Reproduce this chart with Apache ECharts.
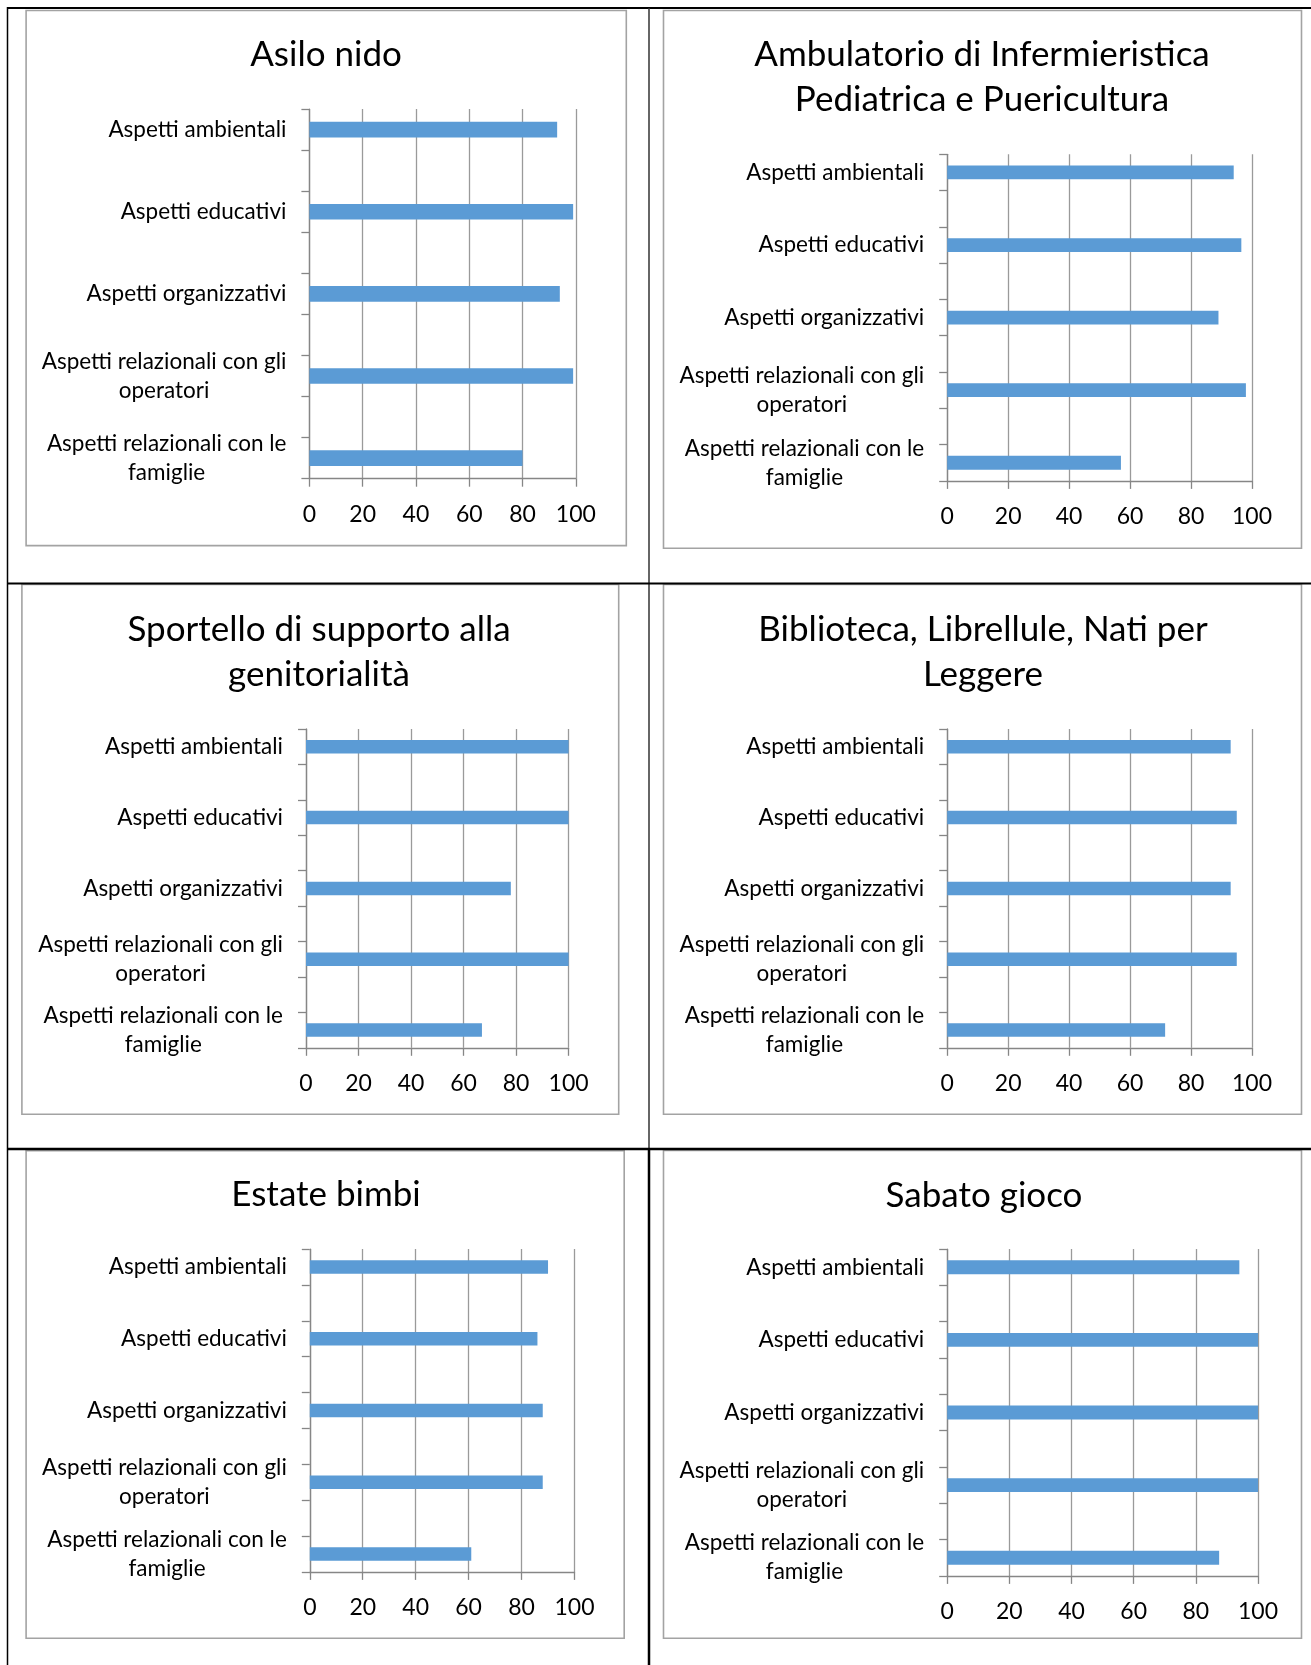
<!DOCTYPE html>
<html lang="it">
<head>
<meta charset="utf-8">
<title>Soddisfazione dei servizi</title>
<script src="https://cdn.jsdelivr.net/npm/echarts@6/dist/echarts.min.js"></script>
<style>
  html, body { margin: 0; padding: 0; background: #ffffff; }
  #chart { width: 1311px; height: 1665px; }
</style>
</head>
<body>
<div id="chart"></div>
<script>
// Aspects rated for every service (top to bottom)
const categories = [
  'Aspetti ambientali',
  'Aspetti educativi',
  'Aspetti organizzativi',
  'Aspetti relazionali con gli\noperatori',
  'Aspetti relazionali con le\nfamiglie'
];

// Value axis: 0 to 100, one tick every 20
const axisMin = 0;
const axisMax = 100;
const axisStep = 20;

// Service names (panel titles)
const titles = [
  'Asilo nido',
  'Ambulatorio di Infermieristica\nPediatrica e Puericultura',
  'Sportello di supporto alla\ngenitorialità',
  'Biblioteca, Librellule, Nati per\nLeggere',
  'Estate bimbi',
  'Sabato gioco'
];

// Scores per service, in the same order as categories
const asiloNido     = [93, 99, 94, 99, 80];
const ambulatorio   = [94, 96.5, 89, 98, 57];
const sportello     = [100, 100, 78, 100, 67];
const biblioteca    = [93, 95, 93, 95, 71.5];
const estateBimbi   = [90, 86, 88, 88, 61];
const sabatoGioco   = [94, 100, 100, 100, 87.5];

const seriesValues = [asiloNido, ambulatorio, sportello, biblioteca, estateBimbi, sabatoGioco];

// ---- layout (pixels) ----
const grids = [
  { left: 309.4, top: 109.1, width: 266.4, height: 369.6 },
  { left: 947.2, top: 154.3, width: 304.8, height: 326.6 },
  { left: 306.0, top: 729.0, width: 262.6, height: 318.8 },
  { left: 947.2, top: 729.0, width: 304.8, height: 318.8 },
  { left: 309.8, top: 1249.1, width: 264.7, height: 322.8 },
  { left: 947.2, top: 1249.1, width: 310.8, height: 326.8 }
];
const titlePos = [
  { x: 326, top: 32.5 },
  { x: 982, top: 32.5 },
  { x: 319, top: 607 },
  { x: 983, top: 607 },
  { x: 326, top: 1172.5 },
  { x: 984, top: 1173 }
];
const boxes = [
  [26.1, 10.5, 626.3, 545.6],
  [663.5, 10.5, 1301.5, 548.3],
  [21.9, 584.4, 618.7, 1114.3],
  [663.5, 584.4, 1301.5, 1114.3],
  [26.1, 1150.7, 624.2, 1638.2],
  [663.5, 1150.5, 1301.5, 1638.2]
];

const FONT = 'Lato, "Liberation Sans", sans-serif';
const LABEL_SIZE = 22.5;
const TICK_SIZE = 23;
const TITLE_SIZE = 35;
const BAR_COLOR = '#5B9BD5';
const AXIS_COLOR = '#868686';
const GRID_COLOR = '#9A9A9A';

// Each aspect is followed by an empty slot, as in the original workbook layout
const slots = [];
categories.forEach((c, i) => {
  if (i > 0) slots.push(' '.repeat(i));
  slots.push(c);
});
function spread(values) {
  const out = [];
  values.forEach((v, i) => {
    if (i > 0) out.push(null);
    out.push(v);
  });
  return out;
}

function labelFormatter(v) {
  return v.split('\n').map(line => '{c|' + line + '}').join('\n');
}

const option = {
  animation: false,
  backgroundColor: '#ffffff',
  title: titles.map((t, i) => ({
    text: t,
    left: titlePos[i].x,
    top: titlePos[i].top,
    textAlign: 'center',
    padding: 0,
    textStyle: {
      fontFamily: FONT,
      fontSize: TITLE_SIZE,
      fontWeight: 'normal',
      color: '#000000',
      lineHeight: 45
    }
  })),
  grid: grids.map(g => Object.assign({ containLabel: false }, g)),
  xAxis: grids.map((g, i) => ({
    type: 'value',
    gridIndex: i,
    min: axisMin,
    max: axisMax,
    interval: axisStep,
    axisLine: { show: true, lineStyle: { color: AXIS_COLOR, width: 1.3 } },
    axisTick: { show: true, length: 8, lineStyle: { color: AXIS_COLOR, width: 1.3 } },
    splitLine: { show: true, lineStyle: { color: GRID_COLOR, width: 1.3 } },
    axisLabel: {
      margin: 24,
      fontFamily: FONT,
      fontSize: TICK_SIZE,
      color: '#000000'
    }
  })),
  yAxis: grids.map((g, i) => ({
    type: 'category',
    gridIndex: i,
    data: slots,
    inverse: true,
    axisLine: { show: true, lineStyle: { color: AXIS_COLOR, width: 1.3 } },
    axisTick: { show: true, interval: 0, length: 8, lineStyle: { color: AXIS_COLOR, width: 1.3 } },
    splitLine: { show: false },
    axisLabel: {
      interval: 0,
      margin: 23,
      fontFamily: FONT,
      fontSize: LABEL_SIZE,
      color: '#000000',
      formatter: labelFormatter,
      rich: {
        c: {
          align: 'center',
          fontFamily: FONT,
          fontSize: LABEL_SIZE,
          color: '#000000',
          lineHeight: 29
        }
      }
    }
  })),
  series: seriesValues.map((vals, i) => ({
    type: 'bar',
    xAxisIndex: i,
    yAxisIndex: i,
    data: spread(vals),
    barWidth: '38%',
    itemStyle: { color: BAR_COLOR },
    silent: true
  })),
  graphic: [
    // chart frames
    ...boxes.map(b => ({
      type: 'rect',
      silent: true,
      shape: { x: b[0], y: b[1], width: b[2] - b[0], height: b[3] - b[1] },
      style: { fill: 'none', stroke: '#A3A3A3', lineWidth: 1.6 }
    })),
    // table rules
    { type: 'line', silent: true, shape: { x1: 7, y1: 8, x2: 1311, y2: 8 }, style: { stroke: '#000', lineWidth: 2 } },
    { type: 'line', silent: true, shape: { x1: 7.5, y1: 7, x2: 7.5, y2: 1665 }, style: { stroke: '#000', lineWidth: 1.5 } },
    { type: 'line', silent: true, shape: { x1: 649, y1: 8, x2: 649, y2: 1149 }, style: { stroke: '#333', lineWidth: 1.5 } },
    { type: 'line', silent: true, shape: { x1: 649, y1: 1149, x2: 649, y2: 1665 }, style: { stroke: '#000', lineWidth: 2.5 } },
    { type: 'line', silent: true, shape: { x1: 7, y1: 583.5, x2: 1311, y2: 583.5 }, style: { stroke: '#000', lineWidth: 2 } },
    { type: 'line', silent: true, shape: { x1: 7, y1: 1149, x2: 1311, y2: 1149 }, style: { stroke: '#000', lineWidth: 2.5 } }
  ]
};

const chart = echarts.init(document.getElementById('chart'), null, { renderer: 'canvas' });
chart.setOption(option);
</script>
</body>
</html>
